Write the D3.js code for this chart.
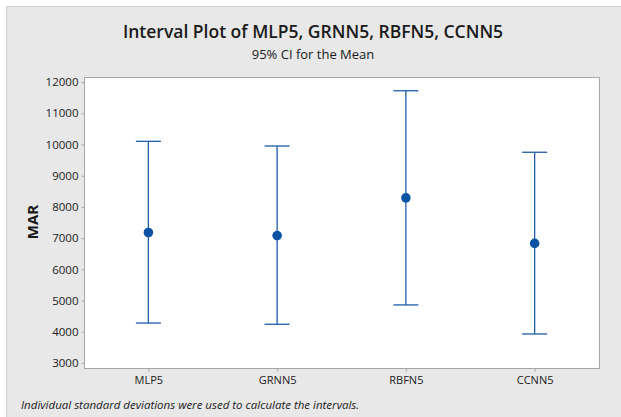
<!DOCTYPE html>
<html>
<head>
<meta charset="utf-8">
<script src="https://cdn.jsdelivr.net/npm/d3@7"></script>
<style>
  body { margin: 0; background: #fff; }
  svg text { font-family: "Open Sans", "Noto Sans", sans-serif; fill: #1a1a1a; }
</style>
</head>
<body>
<svg id="chart" width="621" height="417"></svg>
<script>
// interval plot, values
var groups = ['MLP5', 'GRNN5', 'RBFN5', 'CCNN5'];
var means  = [7180, 7080, 8290, 6830];
var lower  = [4280, 4240, 4860, 3930];
var upper  = [10100, 9950, 11720, 9750];
var yTicks = [3000, 4000, 5000, 6000, 7000, 8000, 9000, 10000, 11000, 12000];

var svg = d3.select('#chart');

// grey panel behind everything
svg.append('rect')
    .attr('x', 6.5).attr('y', 6.5)
    .attr('width', 621).attr('height', 417)
    .attr('fill', '#e8e8e8')
    .attr('stroke', '#cfcfcf');

var box = { left: 84, right: 599, top: 77, bottom: 368 };

var x = d3.scalePoint()
    .domain(groups)
    .range([box.left, box.right])
    .padding(0.5);

var y = d3.scaleLinear()
    .domain([3000, 12000])
    .range([363, 82]);

svg.append('rect')
    .attr('x', box.left + 0.5).attr('y', box.top + 0.5)
    .attr('width', box.right - box.left)
    .attr('height', box.bottom - box.top)
    .attr('fill', '#fff')
    .attr('stroke', '#a6a6a6');

// axes
var yAxis = svg.append('g')
    .attr('transform', 'translate(' + (box.left + 0.5) + ',0)')
    .call(d3.axisLeft(y).tickValues(yTicks).tickSize(3).tickPadding(3).tickFormat(d3.format('d')));
yAxis.select('.domain').remove();
yAxis.selectAll('line').attr('stroke', '#a6a6a6');
yAxis.selectAll('text').style('font-size', '11.5px').attr('fill', '#1a1a1a');

var xAxis = svg.append('g')
    .attr('transform', 'translate(0,' + (box.bottom + 0.5) + ')')
    .call(d3.axisBottom(x).tickSize(3).tickPadding(5));
xAxis.select('.domain').remove();
xAxis.selectAll('line').attr('stroke', '#a6a6a6');
xAxis.selectAll('text').style('font-size', '11px').attr('fill', '#1a1a1a');

// intervals
var rows = groups.map(function (g, i) {
    return { g: g, mean: means[i], lo: lower[i], hi: upper[i] };
});
var cap = 12.5;
var blue = '#1d5ca8';

var iv = svg.append('g').selectAll('g')
    .data(rows)
    .enter().append('g');

iv.append('line')
    .attr('x1', d => x(d.g)).attr('x2', d => x(d.g))
    .attr('y1', d => y(d.hi)).attr('y2', d => y(d.lo))
    .attr('stroke', blue).attr('stroke-width', 1.3);

iv.append('line')
    .attr('x1', d => x(d.g) - cap).attr('x2', d => x(d.g) + cap)
    .attr('y1', d => y(d.hi)).attr('y2', d => y(d.hi))
    .attr('stroke', blue).attr('stroke-width', 1.3);

iv.append('line')
    .attr('x1', d => x(d.g) - cap).attr('x2', d => x(d.g) + cap)
    .attr('y1', d => y(d.lo)).attr('y2', d => y(d.lo))
    .attr('stroke', blue).attr('stroke-width', 1.3);

iv.append('circle')
    .attr('cx', d => x(d.g))
    .attr('cy', d => y(d.mean))
    .attr('r', 4.8)
    .attr('fill', '#0a52a3');

// texts
svg.append('text')
    .attr('x', 313).attr('y', 38)
    .attr('text-anchor', 'middle')
    .style('font-size', '17.5px')
    .style('font-weight', '600')
    .text('Interval Plot of MLP5, GRNN5, RBFN5, CCNN5');

svg.append('text')
    .attr('x', 313).attr('y', 59)
    .attr('text-anchor', 'middle')
    .style('font-size', '13px')
    .text('95% CI for the Mean');

svg.append('text')
    .attr('transform', 'translate(38,222) rotate(-90)')
    .attr('text-anchor', 'middle')
    .style('font-size', '15px')
    .style('font-weight', 'bold')
    .text('MAR');

svg.append('text')
    .attr('x', 21).attr('y', 409)
    .style('font-size', '11.5px')
    .style('font-style', 'italic')
    .text('Individual standard deviations were used to calculate the intervals.');
</script>
</body>
</html>
